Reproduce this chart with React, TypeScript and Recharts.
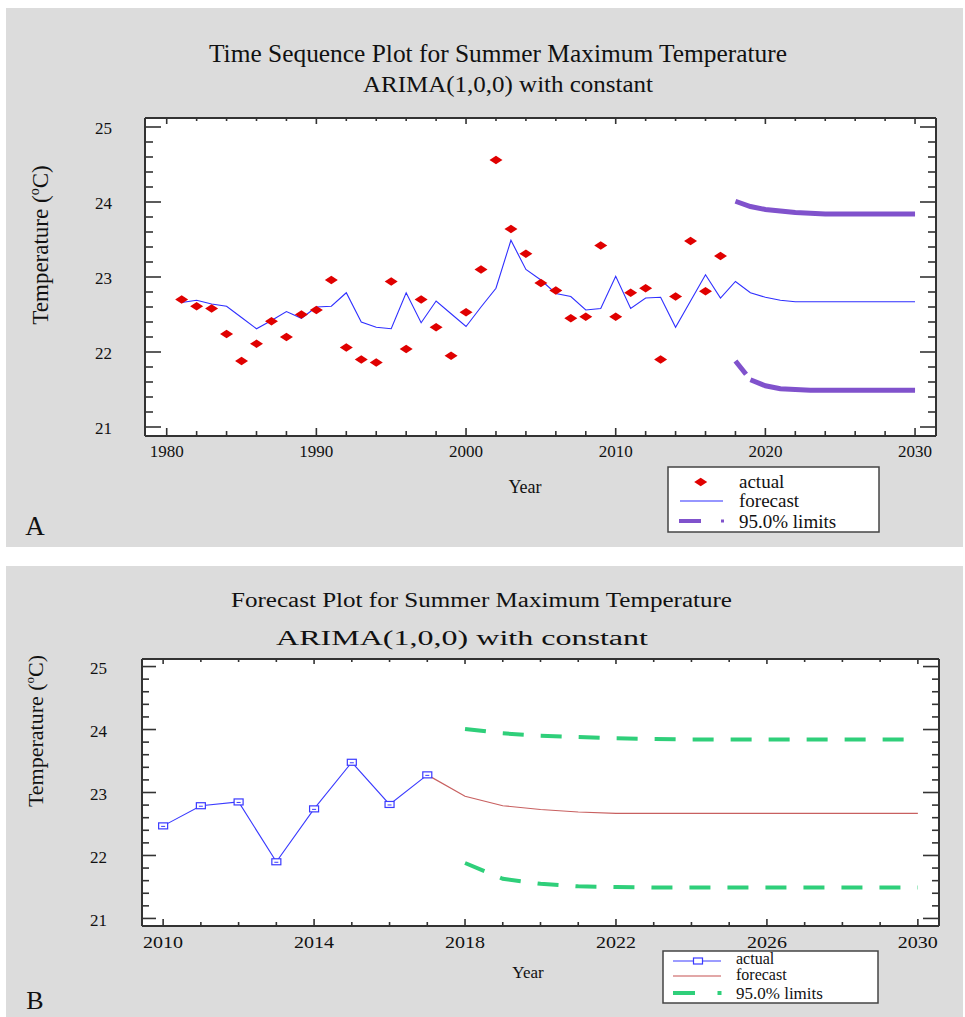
import React from 'react';
import { ComposedChart, Line, XAxis, YAxis, CartesianGrid } from 'recharts';

// ---------- data ----------
const yearsA = [
  1981, 1982, 1983, 1984, 1985, 1986, 1987, 1988, 1989, 1990,
  1991, 1992, 1993, 1994, 1995, 1996, 1997, 1998, 1999, 2000,
  2001, 2002, 2003, 2004, 2005, 2006, 2007, 2008, 2009, 2010,
  2011, 2012, 2013, 2014, 2015, 2016, 2017, 2018, 2019, 2020,
  2021, 2022, 2023, 2024, 2025, 2026, 2027, 2028, 2029, 2030,
];
const yearsB = [
  2010, 2011, 2012, 2013, 2014, 2015, 2016, 2017, 2018, 2019, 2020,
  2021, 2022, 2023, 2024, 2025, 2026, 2027, 2028, 2029, 2030,
];
// observed summer maximum temperature 1981-2017
const actualTemp = [
  22.70, 22.61, 22.58, 22.24, 21.88, 22.11, 22.41, 22.20, 22.50, 22.56,
  22.96, 22.06, 21.90, 21.86, 22.94, 22.04, 22.70, 22.33, 21.95, 22.53,
  23.10, 24.56, 23.64, 23.31, 22.92, 22.82, 22.45, 22.47, 23.42, 22.47,
  22.79, 22.85, 21.90, 22.74, 23.48, 22.81, 23.28,
];
// one-step-ahead fitted values 1981-2017
const fittedTemp = [
  22.66, 22.69, 22.64, 22.61, 22.46, 22.31, 22.42, 22.54, 22.45, 22.60,
  22.61, 22.79, 22.40, 22.33, 22.31, 22.79, 22.39, 22.68, 22.51, 22.34,
  22.60, 22.85, 23.49, 23.10, 22.96, 22.78, 22.74, 22.56, 22.58, 23.01,
  22.58, 22.72, 22.73, 22.33, 22.68, 23.03, 22.72,
];
// forecasts 2018-2030
const forecastTemp = [22.94, 22.79, 22.73, 22.69, 22.67, 22.67, 22.67, 22.67, 22.67, 22.67, 22.67, 22.67, 22.67];
const upper95 = [24.01, 23.94, 23.90, 23.88, 23.86, 23.85, 23.84, 23.84, 23.84, 23.84, 23.84, 23.84, 23.84];
const lower95 = [21.88, 21.63, 21.55, 21.51, 21.50, 21.49, 21.49, 21.49, 21.49, 21.49, 21.49, 21.49, 21.49];

const xTicksA = [
  1980, 1982, 1984, 1986, 1988, 1990, 1992, 1994, 1996, 1998, 2000, 2002, 2004,
  2006, 2008, 2010, 2012, 2014, 2016, 2018, 2020, 2022, 2024, 2026, 2028, 2030,
];
const xTicksB = [
  2010, 2011, 2012, 2013, 2014, 2015, 2016, 2017, 2018, 2019, 2020,
  2021, 2022, 2023, 2024, 2025, 2026, 2027, 2028, 2029, 2030,
];
const yTicks = [
  21, 21.2, 21.4, 21.6, 21.8, 22, 22.2, 22.4, 22.6, 22.8, 23,
  23.2, 23.4, 23.6, 23.8, 24, 24.2, 24.4, 24.6, 24.8, 25,
];

const FIRST_FORECAST_YEAR = 2018;
const FIRST_YEAR = 1981;

const rowsA = yearsA.map((year, i) => ({
  year,
  actual: i < actualTemp.length ? actualTemp[i] : null,
  forecast: i < fittedTemp.length ? fittedTemp[i] : forecastTemp[i - fittedTemp.length],
  upper: year >= FIRST_FORECAST_YEAR ? upper95[year - FIRST_FORECAST_YEAR] : null,
  lower: year >= FIRST_FORECAST_YEAR ? lower95[year - FIRST_FORECAST_YEAR] : null,
}));

const rowsB = yearsB.map((year) => {
  const ia = year - FIRST_YEAR;
  const isFc = year >= FIRST_FORECAST_YEAR;
  return {
    year,
    actual: ia < actualTemp.length ? actualTemp[ia] : null,
    forecast: year === FIRST_FORECAST_YEAR - 1 ? actualTemp[ia] : isFc ? forecastTemp[year - FIRST_FORECAST_YEAR] : null,
    upper: isFc ? upper95[year - FIRST_FORECAST_YEAR] : null,
    lower: isFc ? lower95[year - FIRST_FORECAST_YEAR] : null,
  };
});

// ---------- styles ----------
const SERIF = '"Liberation Serif", "Times New Roman", serif';
const FRAME = '#333';

type TickOpts = {
  side: 'bottom' | 'top' | 'left' | 'right';
  isMajor: (v: number) => boolean;
  majorLen: number;
  minorLen: number;
  showLabel: boolean;
  labelOffset: number;
  fontSize: number;
  textLength?: number;
};

const makeTick = (o: TickOpts) => (props: any) => {
  const { x, y, payload, index } = props;
  const v = payload.value as number;
  const major = o.isMajor(v);
  const len = major ? o.majorLen : o.minorLen;
  let x2 = x;
  let y2 = y;
  if (o.side === 'bottom') y2 = y - len;
  else if (o.side === 'top') y2 = y + len;
  else if (o.side === 'left') x2 = x + len;
  else x2 = x - len;
  let label = null;
  if (o.showLabel && major) {
    if (o.side === 'bottom') {
      label = (
        <text x={x} y={y + o.labelOffset} textAnchor="middle" fontFamily={SERIF} fontSize={o.fontSize} fill="#111"
          {...(o.textLength ? { textLength: o.textLength, lengthAdjust: 'spacingAndGlyphs' } : {})}>
          {v}
        </text>
      );
    } else {
      label = (
        <text x={x - o.labelOffset} y={y} dy="0.42em" textAnchor="end" fontFamily={SERIF} fontSize={o.fontSize} fill="#111">
          {v}
        </text>
      );
    }
  }
  return (
    <g key={`tk-${o.side}-${index}`}>
      <line x1={x} y1={y} x2={x2} y2={y2} stroke={FRAME} strokeWidth={1.6} />
      {label}
    </g>
  );
};

const isInt = (v: number) => Math.abs(v - Math.round(v)) < 1e-6;

const Diamond = (props: any) => {
  const { cx, cy, index, value } = props;
  if (value == null || cy == null || isNaN(cy)) return <g key={`dm-${index}`} />;
  return (
    <polygon key={`dm-${index}`} points={`${cx - 6.5},${cy} ${cx},${cy - 4.2} ${cx + 6.5},${cy} ${cx},${cy + 4.2}`} fill="#e00000" />
  );
};

const SquareDot = (props: any) => {
  const { cx, cy, index, value } = props;
  if (value == null || cy == null || isNaN(cy)) return <g key={`sq-${index}`} />;
  return (
    <g key={`sq-${index}`}>
      <rect x={cx - 4.5} y={cy - 3} width={9} height={6} fill="#fff" stroke="#3a3aff" strokeWidth={1.2} />
      <line x1={cx - 2} y1={cy + 0.5} x2={cx + 2} y2={cy + 0.5} stroke="#3a3aff" strokeWidth={1} />
    </g>
  );
};

const axisLine = { stroke: FRAME, strokeWidth: 2 };
const yDomain: [number, number] = [20.88, 25.12];

function ChartA() {
  return (
    <ComposedChart width={957} height={539} data={rowsA} margin={{ top: 109, right: 26, bottom: 110, left: 138 }}>
      <CartesianGrid fill="#ffffff" horizontal={false} vertical={false} stroke="none" />
      <XAxis dataKey="year" type="number" domain={[1978.55, 2031.4]} allowDataOverflow ticks={xTicksA} interval={0}
        height={1} tickSize={0} tickMargin={0} tickLine={false} axisLine={axisLine}
        tick={makeTick({ side: 'bottom', isMajor: (v) => v % 10 === 0, majorLen: 8, minorLen: 5, showLabel: true, labelOffset: 21, fontSize: 17 })} />
      <XAxis xAxisId="top" orientation="top" dataKey="year" type="number" domain={[1978.55, 2031.4]} allowDataOverflow ticks={xTicksA} interval={0}
        height={1} tickSize={0} tickMargin={0} tickLine={false} axisLine={axisLine}
        tick={makeTick({ side: 'top', isMajor: (v) => v % 10 === 0, majorLen: 6, minorLen: 3, showLabel: false, labelOffset: 0, fontSize: 17 })} />
      <YAxis type="number" domain={yDomain} allowDataOverflow ticks={yTicks} interval={0}
        width={1} tickSize={0} tickMargin={0} tickLine={false} axisLine={axisLine}
        tick={makeTick({ side: 'left', isMajor: isInt, majorLen: 16, minorLen: 8, showLabel: true, labelOffset: 33, fontSize: 17 })} />
      <YAxis yAxisId="right" orientation="right" type="number" domain={yDomain} allowDataOverflow ticks={yTicks} interval={0}
        width={1} tickSize={0} tickMargin={0} tickLine={false} axisLine={axisLine}
        tick={makeTick({ side: 'right', isMajor: isInt, majorLen: 16, minorLen: 8, showLabel: false, labelOffset: 0, fontSize: 17 })} />
      <Line dataKey="forecast" stroke="#2f2fff" strokeWidth={1.1} dot={false} isAnimationActive={false} />
      <Line dataKey="actual" stroke="none" dot={Diamond} activeDot={false} isAnimationActive={false} />
      <Line dataKey="upper" stroke="#8052cc" strokeWidth={5} dot={false} isAnimationActive={false} />
      <Line dataKey="lower" stroke="#8052cc" strokeWidth={5} strokeDasharray="17 7 2000" dot={false} isAnimationActive={false} />
    </ComposedChart>
  );
}

function ChartB() {
  return (
    <ComposedChart width={957} height={451} data={rowsB} margin={{ top: 92, right: 23, bottom: 90, left: 135 }}>
      <CartesianGrid fill="#ffffff" horizontal={false} vertical={false} stroke="none" />
      <XAxis dataKey="year" type="number" domain={[2009.44, 2030.56]} allowDataOverflow ticks={xTicksB} interval={0}
        height={1} tickSize={0} tickMargin={0} tickLine={false} axisLine={axisLine}
        tick={makeTick({ side: 'bottom', isMajor: (v) => v % 4 === 2, majorLen: 7, minorLen: 4, showLabel: true, labelOffset: 22, fontSize: 17, textLength: 40 })} />
      <XAxis xAxisId="top" orientation="top" dataKey="year" type="number" domain={[2009.44, 2030.56]} allowDataOverflow ticks={xTicksB} interval={0}
        height={1} tickSize={0} tickMargin={0} tickLine={false} axisLine={axisLine}
        tick={makeTick({ side: 'top', isMajor: (v) => v % 4 === 2, majorLen: 5, minorLen: 3, showLabel: false, labelOffset: 0, fontSize: 17 })} />
      <YAxis type="number" domain={yDomain} allowDataOverflow ticks={yTicks} interval={0}
        width={1} tickSize={0} tickMargin={0} tickLine={false} axisLine={axisLine}
        tick={makeTick({ side: 'left', isMajor: isInt, majorLen: 14, minorLen: 7, showLabel: true, labelOffset: 35, fontSize: 17 })} />
      <YAxis yAxisId="right" orientation="right" type="number" domain={yDomain} allowDataOverflow ticks={yTicks} interval={0}
        width={1} tickSize={0} tickMargin={0} tickLine={false} axisLine={axisLine}
        tick={makeTick({ side: 'right', isMajor: isInt, majorLen: 16, minorLen: 7, showLabel: false, labelOffset: 0, fontSize: 17 })} />
      <Line dataKey="upper" stroke="#2fcf7a" strokeWidth={4} strokeDasharray="21 17" dot={false} isAnimationActive={false} />
      <Line dataKey="lower" stroke="#2fcf7a" strokeWidth={4} strokeDasharray="21 17" dot={false} isAnimationActive={false} />
      <Line dataKey="forecast" stroke="#c86060" strokeWidth={1.2} dot={false} isAnimationActive={false} />
      <Line dataKey="actual" stroke="#3a3aff" strokeWidth={1.1} dot={SquareDot} activeDot={false} isAnimationActive={false} />
    </ComposedChart>
  );
}

function Overlay() {
  const t = { fontFamily: SERIF, fill: '#111' } as const;
  return (
    <svg width={965} height={1017} style={{ position: 'absolute', left: 0, top: 0, pointerEvents: 'none' }}>
      {/* Panel A titles */}
      <text x={498} y={62} textAnchor="middle" fontSize={25} textLength={578} lengthAdjust="spacingAndGlyphs" {...t}>
        Time Sequence Plot for Summer Maximum  Temperature
      </text>
      <text x={508} y={92} textAnchor="middle" fontSize={24} textLength={290} lengthAdjust="spacingAndGlyphs" {...t}>
        ARIMA(1,0,0) with constant
      </text>
      <text transform="translate(48,245) rotate(-90)" textAnchor="middle" fontSize={23} {...t}>
        Temperature (<tspan dy={-9} fontSize={14}>o</tspan><tspan dy={9}>C)</tspan>
      </text>
      <text x={525} y={493} textAnchor="middle" fontSize={18} {...t}>Year</text>
      <text x={35} y={535} textAnchor="middle" fontSize={27} {...t}>A</text>
      {/* Legend A */}
      <rect x={668} y={467} width={211} height={65} fill="#fff" stroke="#444" strokeWidth={1.5} />
      <polygon points="694.2,482 700.7,477.8 707.2,482 700.7,486.2" fill="#e00000" />
      <line x1={680} y1={501} x2={723} y2={501} stroke="#2f2fff" strokeWidth={1.1} />
      <line x1={679} y1={521} x2={701} y2={521} stroke="#8052cc" strokeWidth={4} />
      <rect x={721} y={519.5} width={3} height={3} fill="#8052cc" />
      <text x={739} y={488} fontSize={19} {...t}>actual</text>
      <text x={739} y={507} fontSize={19} {...t}>forecast</text>
      <text x={739} y={528} fontSize={19} {...t}>95.0% limits</text>

      {/* Panel B titles */}
      <text x={481.5} y={607} textAnchor="middle" fontSize={20} textLength={501} lengthAdjust="spacingAndGlyphs" {...t}>
        Forecast Plot for Summer Maximum  Temperature
      </text>
      <text x={462} y={645} textAnchor="middle" fontSize={20} textLength={372} lengthAdjust="spacingAndGlyphs" {...t}>
        ARIMA(1,0,0) with constant
      </text>
      <text transform="translate(43,731) rotate(-90)" textAnchor="middle" fontSize={22} {...t}>
        Temperature (<tspan dy={-9} fontSize={13}>o</tspan><tspan dy={9}>C)</tspan>
      </text>
      <text x={528} y={978} textAnchor="middle" fontSize={17} {...t}>Year</text>
      <text x={35} y={1009} textAnchor="middle" fontSize={26} {...t}>B</text>
      {/* Legend B */}
      <rect x={663} y={951} width={215} height={52} fill="#fff" stroke="#444" strokeWidth={1.5} />
      <line x1={673} y1={961} x2={721} y2={961} stroke="#3a3aff" strokeWidth={1.1} />
      <rect x={693.5} y={958} width={9} height={6} fill="#fff" stroke="#3a3aff" strokeWidth={1.2} />
      <line x1={673} y1={976} x2={721} y2={976} stroke="#d88a8a" strokeWidth={1.6} />
      <line x1={673} y1={993} x2={695} y2={993} stroke="#2fcf7a" strokeWidth={4} />
      <rect x={717.5} y={991} width={4} height={4} fill="#2fcf7a" />
      <text x={736} y={964} fontSize={16} {...t}>actual</text>
      <text x={736} y={980} fontSize={16} {...t}>forecast</text>
      <text x={736} y={999} fontSize={17} {...t}>95.0% limits</text>
    </svg>
  );
}

export default function App() {
  return (
    <div style={{ position: 'absolute', left: 0, top: 0, width: 965, height: 1017, background: '#fff', overflow: 'hidden' }}>
      <div style={{ position: 'absolute', left: 6, top: 8, width: 957, height: 539, background: '#dcdcdc' }}>
        <ChartA />
      </div>
      <div style={{ position: 'absolute', left: 6, top: 566, width: 957, height: 451, background: '#dcdcdc' }}>
        <ChartB />
      </div>
      <Overlay />
    </div>
  );
}
